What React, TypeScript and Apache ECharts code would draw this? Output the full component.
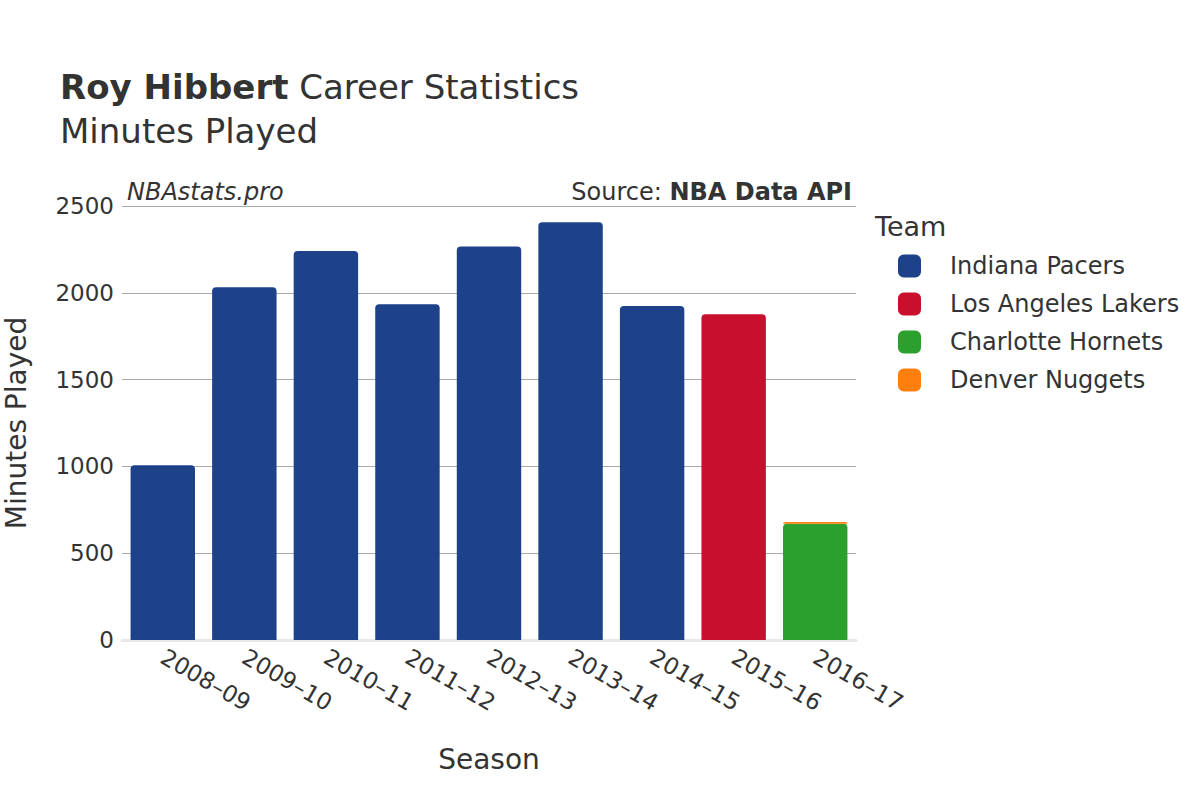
import React, { useEffect, useRef } from "react";
import * as echarts from "echarts";

const seasons = ["2008–09", "2009–10", "2010–11", "2011–12", "2012–13", "2013–14", "2014–15", "2015–16", "2016–17"];
const indianaPacers = [1007, 2032, 2241, 1934, 2266, 2406, 1924, null, null];
const losAngelesLakers = [null, null, null, null, null, null, null, 1876, null];
const charlotteHornets = [null, null, null, null, null, null, null, null, 669];
const denverNuggets = [null, null, null, null, null, null, null, null, 11];
const yTicks = [0, 500, 1000, 1500, 2000, 2500];

const teams = [
  { name: "Indiana Pacers", data: indianaPacers, color: "#1d428a" },
  { name: "Los Angeles Lakers", data: losAngelesLakers, color: "#c8102e" },
  { name: "Charlotte Hornets", data: charlotteHornets, color: "#2ca02c" },
  { name: "Denver Nuggets", data: denverNuggets, color: "#ff7f0e" },
];

const FONT = "DejaVu Sans";
const TEXT = "#333333";

export default function App() {
  const ref = useRef<HTMLDivElement>(null);
  useEffect(() => {
    if (!ref.current) return;
    const chart = echarts.init(ref.current, null, { renderer: "svg" });
    chart.setOption({
      animation: false,
      backgroundColor: "#ffffff",
      textStyle: { fontFamily: FONT, color: TEXT },
      grid: { left: 122, right: 344, top: 206, bottom: 160, containLabel: false, outerBoundsMode: "none" },
      legend: {
        orient: "vertical",
        left: 893,
        top: 249,
        icon: "roundRect",
        itemWidth: 23,
        itemHeight: 23,
        itemGap: 14,
        textStyle: { fontFamily: FONT, fontSize: 24, color: TEXT, padding: [0, 0, 0, 24], lineHeight: 23 },
        data: teams.map((t) => t.name),
      },
      graphic: [
        {
          type: "text",
          left: 60,
          top: 70,
          style: {
            text: "{b|Roy Hibbert} Career Statistics",
            font: `34px ${FONT}`,
            fill: TEXT,
            rich: { b: { fontWeight: "bold", fontSize: 34, fontFamily: FONT, fill: TEXT } },
          },
        },
        {
          type: "text",
          left: 60,
          top: 114,
          style: { text: "Minutes Played", font: `34px ${FONT}`, fill: TEXT },
        },
        {
          type: "text",
          x: 127,
          y: 192,
          style: { text: "NBAstats.pro", font: `italic 24px ${FONT}`, fill: TEXT, verticalAlign: "middle" },
        },
        {
          type: "text",
          x: 852,
          y: 192,
          style: {
            text: "Source: {b|NBA Data API}",
            font: `24px ${FONT}`,
            fill: TEXT,
            align: "right",
            verticalAlign: "middle",
            rich: { b: { fontWeight: "bold", fontSize: 24, fontFamily: FONT, fill: TEXT } },
          },
        },
        {
          type: "text",
          x: 875,
          y: 226,
          style: { text: "Team", font: `27px ${FONT}`, fill: TEXT, verticalAlign: "middle" },
        },
      ],
      xAxis: {
        type: "category",
        data: seasons,
        name: "Season",
        nameLocation: "middle",
        nameGap: 105,
        nameTextStyle: { fontFamily: FONT, fontSize: 28, color: TEXT },
        axisLine: { show: true, lineStyle: { color: "#e8e8e8", width: 3 } },
        axisTick: { show: false },
        axisLabel: { rotate: -30, fontFamily: FONT, fontSize: 23, color: TEXT, margin: 15 },
      },
      yAxis: {
        type: "value",
        min: 0,
        max: 2500,
        interval: 500,
        name: "Minutes Played",
        nameLocation: "middle",
        nameGap: 92,
        nameTextStyle: { fontFamily: FONT, fontSize: 28, color: TEXT },
        axisLine: { show: false },
        axisTick: { show: false },
        axisLabel: {
          fontFamily: FONT,
          fontSize: 23,
          color: TEXT,
          margin: 8,
          formatter: (v: number) => (yTicks.includes(v) ? String(v) : ""),
        },
        splitLine: { show: true, lineStyle: { color: "#aaaaaa", width: 1 } },
      },
      series: teams.map((t) => ({
        name: t.name,
        type: "bar",
        stack: "total",
        data: t.data,
        barWidth: "79%",
        itemStyle: { color: t.color, borderRadius: [4, 4, 0, 0] },
      })),
    });
    return () => chart.dispose();
  }, []);
  return <div ref={ref} style={{ width: 1200, height: 800, position: "absolute", left: 0, top: 0 }} />;
}
